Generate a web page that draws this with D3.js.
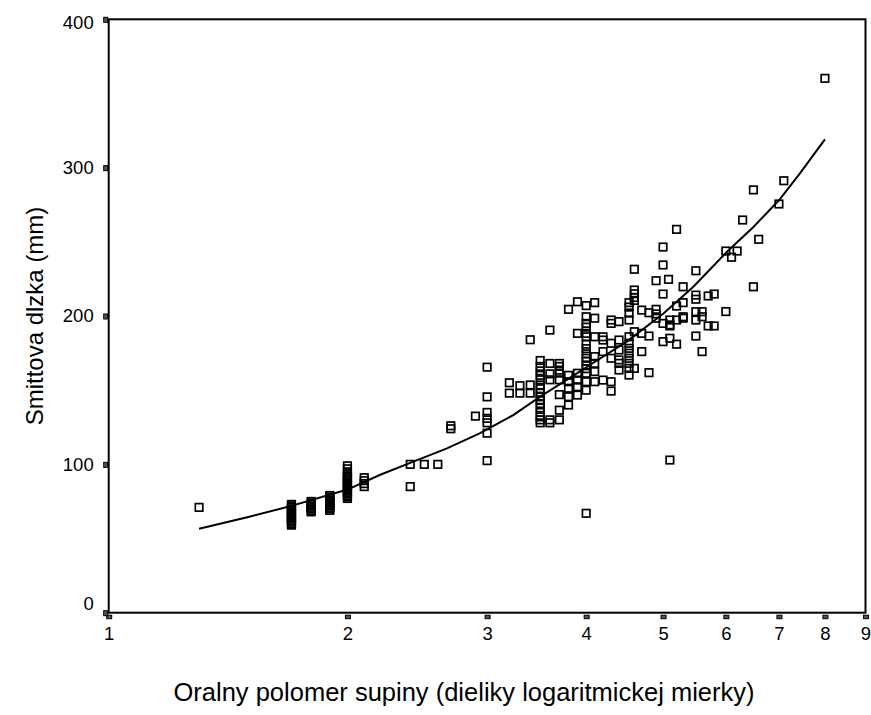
<!DOCTYPE html>
<html><head><meta charset="utf-8">
<script src="https://cdn.jsdelivr.net/npm/d3@7"></script>
<style>body{margin:0;background:#fff} svg{display:block} text{font-family:Arial,"Liberation Sans",sans-serif;fill:#000}</style>
</head><body><svg id="c" width="871" height="715"></svg>
<script>
const xTicks = [1, 2, 3, 4, 5, 6, 7, 8, 9];
const yTicks = [0, 100, 200, 300, 400];
const xTitle = "Oralny polomer supiny (dieliky logaritmickej mierky)";
const yTitle = "Smittova dlzka (mm)";

// observed points, grouped by x (radius)
const groupX = [1.3, 1.7, 1.8, 1.9, 2.0, 2.1, 2.4, 2.5, 2.6, 2.7, 2.9, 3.0, 3.2, 3.3, 3.4, 3.5, 3.6, 3.7, 3.8, 3.9,
  4.0, 4.1, 4.2, 4.3, 4.4, 4.53, 4.6, 4.7, 4.8, 4.9, 5.0, 5.08, 5.1, 5.2, 5.3, 5.5, 5.6, 5.7, 5.8, 6.0, 6.1, 6.2, 6.3, 6.5, 6.6, 7.0, 7.1, 8.0];
const groupY = [
  [71],
  [59, 60, 61, 62, 63, 64, 65, 66, 67, 68, 69, 70, 71, 72, 73],
  [68, 69, 70, 71, 72, 73, 74, 75],
  [69, 70, 71, 72, 73, 74, 75, 76, 77, 78, 79],
  [77, 78, 79, 80, 81, 82, 83, 84, 85, 86, 87, 88, 89, 90, 91, 92, 93, 95, 97, 99],
  [85, 87, 89, 91],
  [100, 85],
  [100],
  [100],
  [124, 126],
  [132.5],
  [102.5, 121, 128, 131, 135, 145.5, 165.5],
  [148, 155],
  [148, 153],
  [148, 153.5, 184],
  [128, 130, 132, 135, 138, 141, 143.5, 145.5, 148, 151, 153.5, 157, 160, 163, 166, 170],
  [128, 130, 157, 161, 168, 190.5],
  [130, 136.5, 147, 157, 161.5, 163.5, 166, 168],
  [140, 145.6, 151.3, 155.7, 160, 204.5],
  [146.7, 152.3, 156.8, 161.4, 188.3, 209.6],
  [67, 150, 155.7, 161.4, 164.5, 167, 169.5, 171.5, 174.5, 178, 181, 186, 188.3, 192.5, 195, 199.5, 207],
  [155.7, 162.5, 168.1, 172.6, 186, 198.5, 209],
  [156.8, 176, 183.8, 186],
  [149.4, 155.7, 171.5, 181.6, 195, 197.3],
  [163.6, 168.1, 170.4, 177.1, 183.8, 196.2],
  [160.2, 164.7, 168.1, 171.5, 174.9, 178.2, 181.6, 186, 197.3, 202, 206, 209],
  [164.7, 189.4, 210.5, 212.5, 215, 217.5, 231.5],
  [176, 188.3, 204],
  [161.8, 186.5, 202.2],
  [198.5, 201.4, 204.5, 223.8],
  [182.7, 195, 214.8, 234.4, 246.5],
  [224.7],
  [102.9, 185, 193.3, 194, 197.3],
  [181, 197.3, 206.7, 258.4],
  [198.5, 199.5, 209, 219.7],
  [186.5, 197.3, 202.9, 211.3, 214.1, 230.5],
  [176, 199.5, 202.9],
  [193.3, 213.5],
  [193.3, 214.8],
  [203, 243.8],
  [239.6],
  [243.8],
  [264.7],
  [219.7, 285],
  [251.7],
  [275.5],
  [291.2],
  [360.2]
];

// fitted curve
const fitX = [1.3, 1.5, 1.7, 2.0, 2.2, 2.4, 2.67, 2.94, 3.24, 3.5, 3.78, 4.17, 4.5, 4.82, 5.01, 5.46, 6.02, 6.5, 7.0, 7.44, 8.0];
const fitY = [56.6, 64.5, 72, 83, 93, 101, 110.8, 121, 133.3, 145.6, 156.9, 171.5, 182.7, 195, 201.8, 219.7, 243.3, 260, 278, 296.2, 319];

const points = [];
groupX.forEach((gx, i) => groupY[i].forEach(v => points.push({x: gx, y: v})));
const fit = fitX.map((v, i) => ({x: v, y: fitY[i]}));

const L = 108.7, R = 865.5, T = 19.3, B = 612.7;
const x = d3.scaleLog().domain([1, 9]).range([L, R]);
const y = d3.scaleLinear().domain([0, 400]).range([B, T]);

const svg = d3.select("#c");

// frame
svg.append("rect").attr("x", L).attr("y", T).attr("width", R - L).attr("height", B - T)
  .attr("fill", "none").attr("stroke", "#000").attr("stroke-width", 2);

// x axis
const xAxis = svg.append("g").attr("transform", `translate(0,${B})`)
  .call(d3.axisBottom(x).tickValues(xTicks).tickFormat(d3.format("d")).tickSize(0).tickPadding(14));
xAxis.select(".domain").remove();
xAxis.attr("font-size", null).attr("font-family", null);
xAxis.selectAll("text").style("font-size", "18.5px").style("font-family", "Arial, 'Liberation Sans', sans-serif");
xAxis.selectAll(".tick").append("rect").attr("x", -2.5).attr("y", 2.5).attr("width", 5).attr("height", 3.5)
  .attr("fill", "#555").attr("stroke", "#000").attr("stroke-width", 1);

// y axis
const yAxis = svg.append("g").attr("transform", `translate(${L},0)`)
  .call(d3.axisLeft(y).tickValues(yTicks).tickFormat(d3.format("d")).tickSize(0).tickPadding(15));
yAxis.select(".domain").remove();
yAxis.attr("font-size", null).attr("font-family", null);
yAxis.selectAll("text").style("font-size", "18.5px").style("font-family", "Arial, 'Liberation Sans', sans-serif")
  .attr("dy", d => d === 0 ? "-0.2em" : d === 400 ? "0.5em" : "0.32em");
yAxis.selectAll(".tick").append("rect").attr("x", -5).attr("y", -2.5).attr("width", 4).attr("height", 5)
  .attr("fill", "#555").attr("stroke", "#000").attr("stroke-width", 1);

// fit line
svg.append("path").datum(fit)
  .attr("d", d3.line().x(d => x(d.x)).y(d => y(d.y)))
  .attr("fill", "none").attr("stroke", "#000").attr("stroke-width", 2);

// points
svg.append("g").selectAll("rect").data(points).join("rect")
  .attr("x", d => x(d.x) - 3.75).attr("y", d => y(d.y) - 3.75)
  .attr("width", 7.5).attr("height", 7.5)
  .attr("fill", "none").attr("stroke", "#000").attr("stroke-width", 1.7);

// titles
svg.append("text").attr("x", 464).attr("y", 701).attr("text-anchor", "middle")
  .style("font-size", "25.5px").text(xTitle);
svg.append("text").attr("transform", "translate(43,316) rotate(-90)").attr("text-anchor", "middle")
  .style("font-size", "24px").text(yTitle);
</script></body></html>
